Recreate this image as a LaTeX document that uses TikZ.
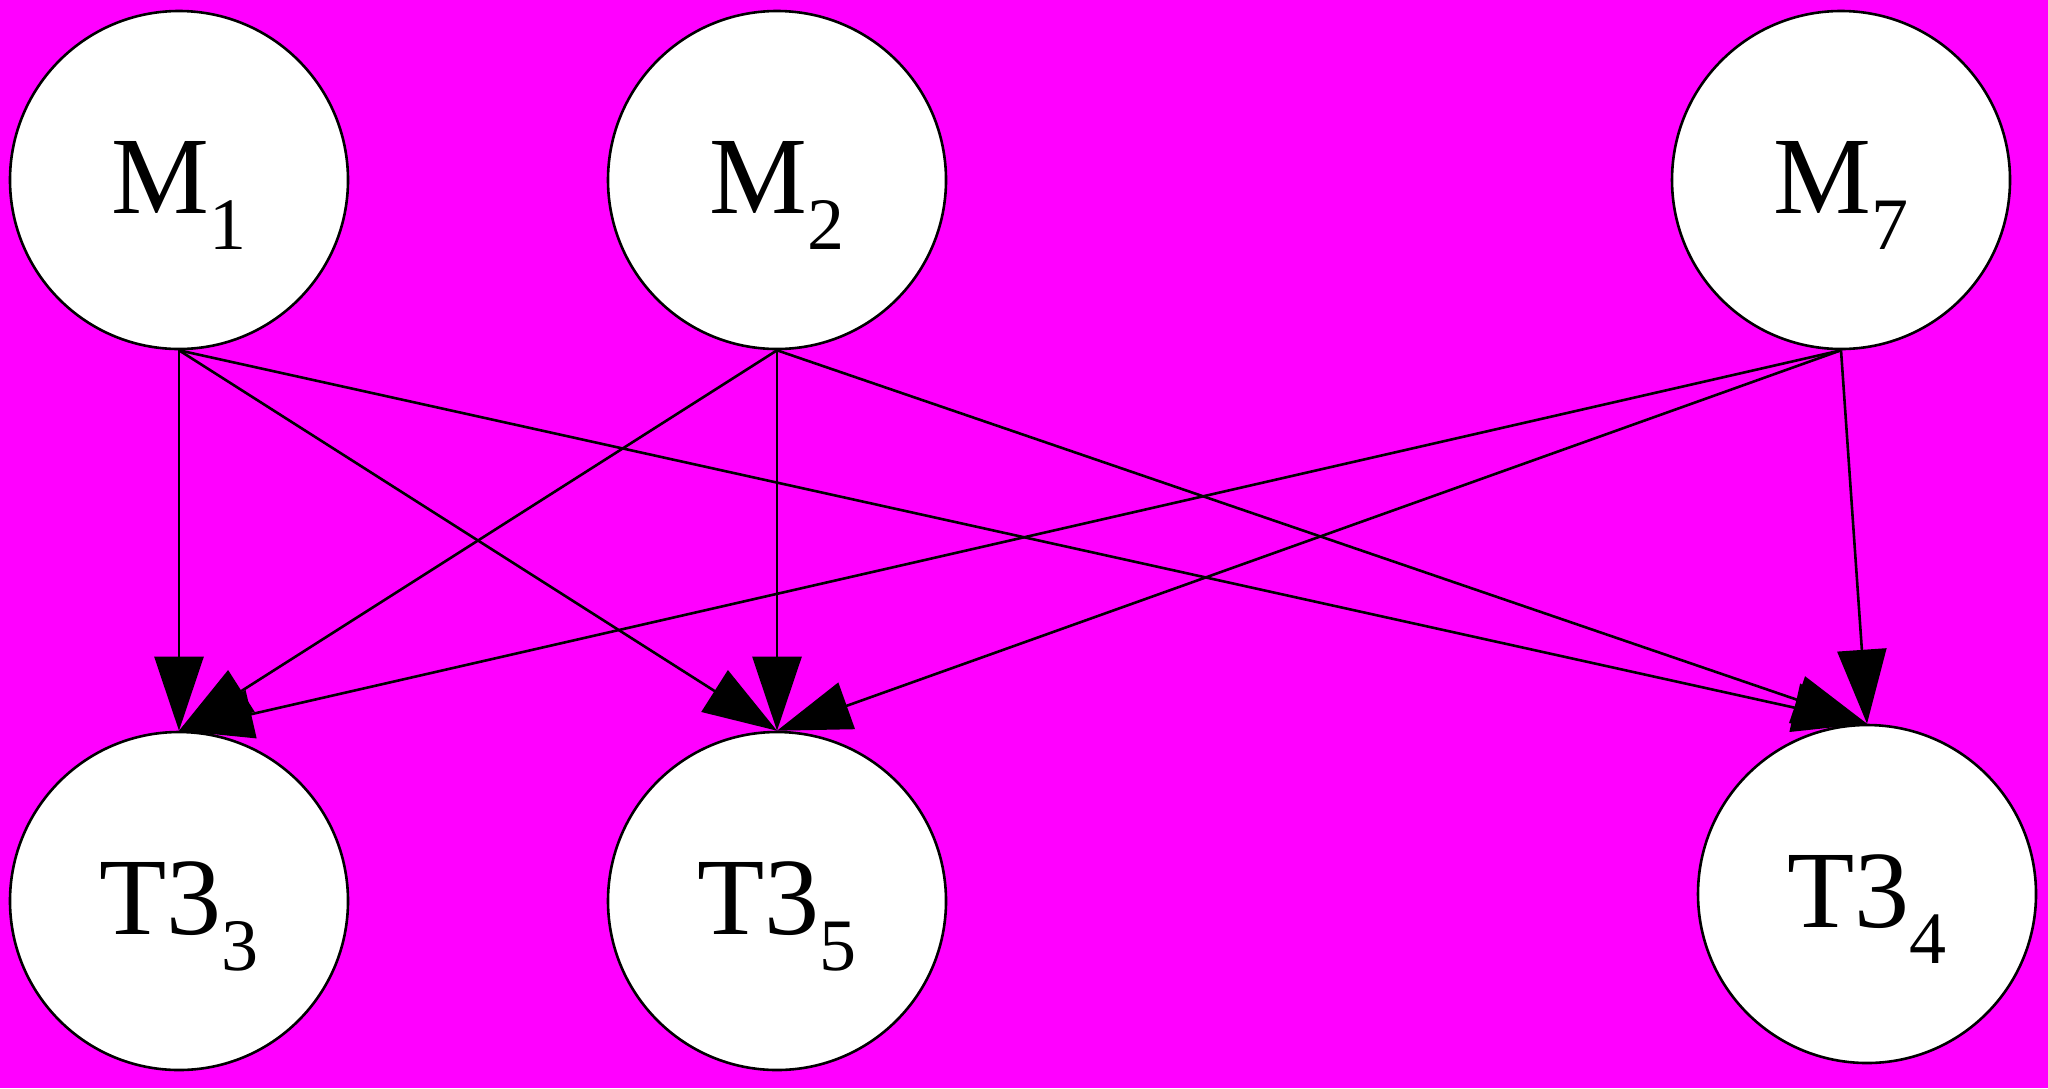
\documentclass[tikz,border=0pt]{standalone}
\usepackage{fontspec}
\setmainfont{Liberation Serif}
\usetikzlibrary{positioning,arrows.meta}
\definecolor{bgpink}{RGB}{255,0,255}
\newcommand{\vname}[2]{#1\raisebox{-18pt}{\fontsize{37pt}{37pt}\selectfont #2}}

\begin{document}
\begin{tikzpicture}[x=0.5pt,y=-0.5pt,
  var/.style={circle,draw,fill=white,line width=1.3pt,minimum size=169pt,inner sep=0pt,
    font=\fontsize{55pt}{60pt}\selectfont,text height=40pt,text depth=7pt},
  edge/.style={line width=1.3pt,-{Triangle[length=37pt,width=24.5pt]}}]
\def\xa{179}
\def\xb{777}
\def\xc{1841}
\def\xd{1867}

\def\ya{180}
\def\yb{901}
\def\yc{894}

\fill[bgpink] (0,0) rectangle (2048,1088);
\useasboundingbox (0,0) rectangle (2048,1088);

\node[var] (m1) at (\xa, \ya) {\vname{M}{1}};
\node[var] (m2) at (\xb, \ya) {\vname{M}{2}};
\node[var] (m7) at (\xc, \ya) {\vname{M}{7}};

\node[var] (t33) at (\xa, \yb) {\vname{T3}{3}};
\node[var] (t35) at (\xb, \yb) {\vname{T3}{5}};
\node[var] (t34) at (\xd, \yc) {\vname{T3}{4}};

\foreach \m in {m1,m2,m7}
  \foreach \t in {t33,t35,t34}
    \draw[edge] (\m.south) -- (\t.north);

\end{tikzpicture}
\end{document}
